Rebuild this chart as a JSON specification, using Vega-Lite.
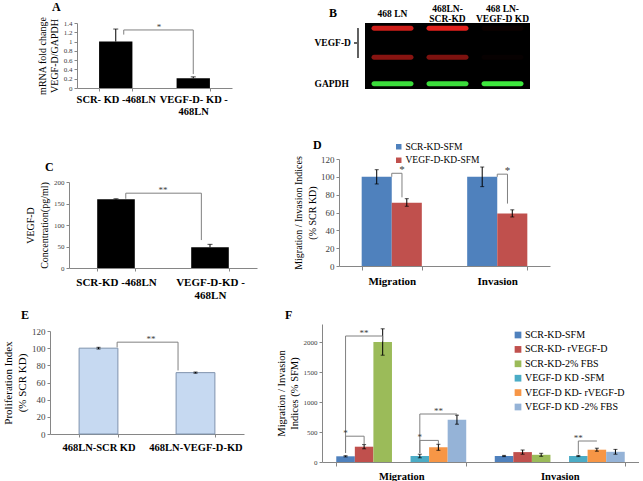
{
  "$schema": "https://vega.github.io/schema/vega-lite/v6.json",
  "background": "white",
  "padding": 0,
  "spacing": 0,
  "resolve": {"scale": {"color": "independent", "opacity": "independent", "xOffset": "independent", "x": "independent", "y": "independent"}, "legend": {"color": "independent", "opacity": "independent"}},
  "config": {
    "font": "Liberation Serif",
    "view": {"stroke": null},
    "concat": {"spacing": 0},
    "axis": {"grid": false, "domainColor": "#868686", "tickColor": "#868686", "labelColor": "#404040", "titleColor": "#000000", "titleFontWeight": "normal", "labelFont": "Liberation Serif", "titleFont": "Liberation Serif", "labelOverlap": false},
    "title": {"fontWeight": "bold", "fontSize": 12, "anchor": "start", "frame": "group", "color": "#000000", "font": "Liberation Serif"},
    "legend": {"labelFont": "Liberation Serif", "labelColor": "#000000", "offset": 0}
  },
  "datasets": {
    "fold": [
      {"cell": "SCR- KD -468LN", "fold": 1.0, "lo": 1.0, "hi": 1.27},
      {"cell": "VEGF-D- KD -468LN", "fold": 0.21, "lo": 0.21, "hi": 0.24}
    ],
    "foldSig": [{"from": "SCR- KD -468LN", "to": "VEGF-D- KD -468LN", "top": 1.25, "lowFrom": 1.15, "lowTo": 0.3, "label": "*"}],
    "blot": [
      {"lane": "468 LN", "protein": "VEGF-D", "rf": 0.08, "signal": 0.9},
      {"lane": "468 LN", "protein": "VEGF-D", "rf": 0.52, "signal": 0.6},
      {"lane": "468 LN", "protein": "GAPDH", "rf": 0.92, "signal": 0.95},
      {"lane": "468LN-SCR-KD", "protein": "VEGF-D", "rf": 0.08, "signal": 1.0},
      {"lane": "468LN-SCR-KD", "protein": "VEGF-D", "rf": 0.52, "signal": 0.55},
      {"lane": "468LN-SCR-KD", "protein": "GAPDH", "rf": 0.92, "signal": 0.95},
      {"lane": "468 LN-VEGF-D KD", "protein": "VEGF-D", "rf": 0.08, "signal": 0.05},
      {"lane": "468 LN-VEGF-D KD", "protein": "VEGF-D", "rf": 0.52, "signal": 0.03},
      {"lane": "468 LN-VEGF-D KD", "protein": "GAPDH", "rf": 0.92, "signal": 1.0}
    ],
    "elisa": [
      {"cell": "SCR-KD -468LN", "conc": 160, "lo": 159, "hi": 161},
      {"cell": "VEGF-D-KD -468LN", "conc": 48, "lo": 48, "hi": 55}
    ],
    "elisaSig": [{"from": "SCR-KD -468LN", "to": "VEGF-D-KD -468LN", "top": 174, "lowFrom": 161, "lowTo": 65, "label": "**"}],
    "mig": [
      {"assay": "Migration", "cells": "SCR-KD-SFM", "index": 100, "lo": 92, "hi": 108},
      {"assay": "Migration", "cells": "VEGF-D-KD-SFM", "index": 71, "lo": 67, "hi": 75.5},
      {"assay": "Invasion", "cells": "SCR-KD-SFM", "index": 100, "lo": 89, "hi": 111},
      {"assay": "Invasion", "cells": "VEGF-D-KD-SFM", "index": 59, "lo": 55, "hi": 63}
    ],
    "migSig": [
      {"assay": "Migration", "top": 104, "lowFrom": 100, "lowTo": 77, "label": "*"},
      {"assay": "Invasion", "top": 103, "lowFrom": 100, "lowTo": 70, "label": "*"}
    ],
    "prolif": [
      {"cell": "468LN-SCR KD", "index": 100, "lo": 99, "hi": 101},
      {"cell": "468LN-VEGF-D-KD", "index": 71.5, "lo": 70.8, "hi": 72.2}
    ],
    "prolifSig": [{"from": "468LN-SCR KD", "to": "468LN-VEGF-D-KD", "top": 107, "lowFrom": 101, "lowTo": 74, "label": "**"}],
    "rescue": [
      {"assay": "Migration", "condition": "SCR-KD-SFM", "pct": 95, "lo": 85, "hi": 105},
      {"assay": "Migration", "condition": "SCR-KD- rVEGF-D", "pct": 255, "lo": 220, "hi": 290},
      {"assay": "Migration", "condition": "SCR-KD-2% FBS", "pct": 2000, "lo": 1780, "hi": 2220},
      {"assay": "Migration", "condition": "VEGF-D KD -SFM", "pct": 100, "lo": 70, "hi": 130},
      {"assay": "Migration", "condition": "VEGF-D KD- rVEGF-D", "pct": 245, "lo": 195, "hi": 295},
      {"assay": "Migration", "condition": "VEGF-D KD -2% FBS", "pct": 705, "lo": 630, "hi": 780},
      {"assay": "Invasion", "condition": "SCR-KD-SFM", "pct": 100, "lo": 90, "hi": 110},
      {"assay": "Invasion", "condition": "SCR-KD- rVEGF-D", "pct": 165, "lo": 130, "hi": 200},
      {"assay": "Invasion", "condition": "SCR-KD-2% FBS", "pct": 120, "lo": 95, "hi": 145},
      {"assay": "Invasion", "condition": "VEGF-D KD -SFM", "pct": 100, "lo": 90, "hi": 110},
      {"assay": "Invasion", "condition": "VEGF-D KD- rVEGF-D", "pct": 205, "lo": 180, "hi": 230},
      {"assay": "Invasion", "condition": "VEGF-D KD -2% FBS", "pct": 170, "lo": 130, "hi": 210}
    ],
    "rescueSig": [
      {"bracket": 1, "step": 1, "assay": "Migration", "condition": "SCR-KD-SFM", "y": 150},
      {"bracket": 1, "step": 2, "assay": "Migration", "condition": "SCR-KD-SFM", "y": 2100},
      {"bracket": 1, "step": 3, "assay": "Migration", "condition": "SCR-KD-2% FBS", "y": 2100},
      {"bracket": 1, "step": 4, "assay": "Migration", "condition": "SCR-KD-2% FBS", "y": 2010},
      {"bracket": 2, "step": 1, "assay": "Migration", "condition": "SCR-KD-SFM", "y": 150},
      {"bracket": 2, "step": 2, "assay": "Migration", "condition": "SCR-KD-SFM", "y": 430},
      {"bracket": 2, "step": 3, "assay": "Migration", "condition": "SCR-KD- rVEGF-D", "y": 430},
      {"bracket": 2, "step": 4, "assay": "Migration", "condition": "SCR-KD- rVEGF-D", "y": 300},
      {"bracket": 3, "step": 1, "assay": "Migration", "condition": "VEGF-D KD -SFM", "y": 150},
      {"bracket": 3, "step": 2, "assay": "Migration", "condition": "VEGF-D KD -SFM", "y": 800},
      {"bracket": 3, "step": 3, "assay": "Migration", "condition": "VEGF-D KD -2% FBS", "y": 800},
      {"bracket": 3, "step": 4, "assay": "Migration", "condition": "VEGF-D KD -2% FBS", "y": 785},
      {"bracket": 4, "step": 1, "assay": "Migration", "condition": "VEGF-D KD -SFM", "y": 150},
      {"bracket": 4, "step": 2, "assay": "Migration", "condition": "VEGF-D KD -SFM", "y": 360},
      {"bracket": 4, "step": 3, "assay": "Migration", "condition": "VEGF-D KD- rVEGF-D", "y": 360},
      {"bracket": 4, "step": 4, "assay": "Migration", "condition": "VEGF-D KD- rVEGF-D", "y": 300},
      {"bracket": 5, "step": 1, "assay": "Invasion", "condition": "VEGF-D KD -SFM", "y": 130},
      {"bracket": 5, "step": 2, "assay": "Invasion", "condition": "VEGF-D KD -SFM", "y": 350},
      {"bracket": 5, "step": 3, "assay": "Invasion", "condition": "VEGF-D KD- rVEGF-D", "y": 350}
    ],
    "rescueStars": [
      {"assay": "Migration", "condition": "SCR-KD- rVEGF-D", "y": 2100, "label": "**"},
      {"assay": "Migration", "condition": "SCR-KD-SFM", "y": 430, "label": "*"},
      {"assay": "Migration", "condition": "VEGF-D KD- rVEGF-D", "y": 800, "label": "**"},
      {"assay": "Migration", "condition": "VEGF-D KD -SFM", "y": 360, "label": "*"},
      {"assay": "Invasion", "condition": "VEGF-D KD -SFM", "y": 350, "label": "**"}
    ]
  },
  "vconcat": [
    {
      "spacing": 0,
      "resolve": {"scale": {"color": "independent", "opacity": "independent", "xOffset": "independent"}, "legend": {"color": "independent", "opacity": "independent"}},
      "hconcat": [
        {"width": 37, "height": 1, "data": {"values": []}, "mark": "point"},
        {
          "spacing": 0,
          "vconcat": [
            {"width": 1, "height": 1, "data": {"values": []}, "mark": "point"},
            {
              "title": {"text": "A", "dx": -25, "offset": 2},
              "width": 155, "height": 65,
              "data": {"name": "fold"},
              "layer": [
                {
                  "mark": {"type": "bar", "color": "#000000"},
                  "encoding": {
                    "x": {"field": "cell", "type": "nominal", "sort": null,
                      "scale": {"domain": ["SCR- KD -468LN", "VEGF-D- KD -468LN"], "paddingInner": 0.57, "paddingOuter": 0.285},
                      "axis": {"title": null, "labelAngle": 0, "labelFontSize": 10.5, "labelFontWeight": "bold", "labelColor": "#000000", "labelPadding": 3, "labelLineHeight": 12, "tickBand": "extent", "tickSize": 3, "labelLimit": 0,
                        "labelExpr": "length(datum.label) > 15 ? [substring(datum.label, 0, lastindexof(datum.label, '-') + 1), substring(datum.label, lastindexof(datum.label, '-') + 1)] : datum.label"}},
                    "y": {"field": "fold", "type": "quantitative", "scale": {"domain": [0, 1.4], "nice": false},
                      "axis": {"title": ["mRNA fold change", "VEGF-D/GAPDH"], "titleFontSize": 10, "titleLineHeight": 12, "titlePadding": 4, "values": [0, 0.2, 0.4, 0.6, 0.8, 1, 1.2, 1.4], "tickCount": 20, "format": ".1~f", "labelFontSize": 7, "tickSize": 3, "labelPadding": 2, "labelOverlap": false, "labelFlush": false}}
                  }
                },
                {
                  "mark": {"type": "rule", "color": "#000000"},
                  "encoding": {
                    "x": {"field": "cell", "type": "nominal"},
                    "y": {"field": "lo", "type": "quantitative"},
                    "y2": {"field": "hi"}
                  }
                },
                {
                  "mark": {"type": "tick", "orient": "horizontal", "size": 5, "thickness": 1, "color": "#000000"},
                  "encoding": {
                    "x": {"field": "cell", "type": "nominal"},
                    "y": {"field": "hi", "type": "quantitative"}
                  }
                },
                {
                  "data": {"name": "foldSig"},
                  "mark": {"type": "rule", "color": "#808080"},
                  "encoding": {
                    "x": {"field": "from", "type": "nominal", "bandPosition": 0.74},
                    "y": {"field": "lowFrom", "type": "quantitative"},
                    "y2": {"field": "top"}
                  }
                },
                {
                  "data": {"name": "foldSig"},
                  "mark": {"type": "rule", "color": "#808080"},
                  "encoding": {
                    "x": {"field": "from", "type": "nominal", "bandPosition": 0.74},
                    "x2": {"field": "to", "bandPosition": 0.5},
                    "y": {"field": "top", "type": "quantitative"}
                  }
                },
                {
                  "data": {"name": "foldSig"},
                  "mark": {"type": "rule", "color": "#808080"},
                  "encoding": {
                    "x": {"field": "to", "type": "nominal", "bandPosition": 0.5},
                    "y": {"field": "lowTo", "type": "quantitative"},
                    "y2": {"field": "top"}
                  }
                },
                {
                  "data": {"name": "foldSig"},
                  "mark": {"type": "text", "color": "#404040", "fontSize": 9, "baseline": "alphabetic"},
                  "encoding": {
                    "x": {"field": "from", "type": "nominal", "bandPosition": 1.8},
                    "y": {"field": "top", "type": "quantitative"},
                    "text": {"field": "label"}
                  }
                }
              ]
            }
          ]
        },
        {"width": 82, "height": 1, "data": {"values": []}, "mark": "point"},
        {
          "spacing": 0,
          "vconcat": [
            {"width": 1, "height": 3, "data": {"values": []}, "mark": "point"},
            {
              "title": {"text": "B", "dx": -36, "offset": -17},
              "width": 165, "height": 66,
              "view": {"fill": "#000000", "stroke": null},
              "data": {"name": "blot"},
              "layer": [
                {
                  "mark": {"type": "tick", "orient": "horizontal", "size": 42, "thickness": 5, "cornerRadius": 2.5},
                  "encoding": {
                    "x": {"field": "lane", "type": "nominal", "sort": null,
                      "scale": {"domain": ["468 LN", "468LN-SCR-KD", "468 LN-VEGF-D KD"], "paddingInner": 0, "paddingOuter": 0},
                      "axis": {"orient": "top", "title": null, "domain": false, "ticks": false, "labelAngle": 0, "labelFontSize": 9.5, "labelFontWeight": "bold", "labelColor": "#000000", "labelBaseline": "middle",
                        "labelPadding": {"condition": {"test": "indexof(datum.label, '-') < 0", "value": 10}, "value": 15},
                        "labelLineHeight": 10, "labelLimit": 0,
                        "labelExpr": "indexof(datum.label, '-') < 0 ? datum.label : [substring(datum.label, 0, indexof(datum.label, '-') + 1), substring(datum.label, indexof(datum.label, '-') + 1)]"}},
                    "y": {"field": "rf", "type": "quantitative", "scale": {"domain": [0, 1], "reverse": true, "nice": false},
                      "axis": {"title": null, "domain": false, "ticks": false, "values": [0.3, 0.92], "tickCount": 20, "labelExpr": "datum.value < 0.6 ? 'VEGF-D' : 'GAPDH'", "labelAlign": "left", "labelBaseline": "middle", "labelPadding": 51, "labelFontSize": 9.5, "labelFontWeight": "bold", "labelColor": "#000000"}},
                    "color": {"field": "protein", "type": "nominal", "scale": {"domain": ["VEGF-D", "GAPDH"], "range": ["#e3211c", "#3ee83e"]}, "legend": null},
                    "opacity": {"field": "signal", "type": "quantitative", "scale": {"domain": [0, 1], "range": [0, 1]}, "legend": null}
                  }
                },
                {
                  "mark": {"type": "rule", "color": "#606060"},
                  "encoding": {
                    "x": {"datum": "468 LN", "type": "nominal", "bandPosition": -0.13},
                    "y": {"datum": 0.08, "type": "quantitative"},
                    "y2": {"datum": 0.53}
                  }
                },
                {
                  "mark": {"type": "rule", "color": "#606060"},
                  "encoding": {
                    "x": {"datum": "468 LN", "type": "nominal", "bandPosition": -0.2},
                    "x2": {"datum": "468 LN", "bandPosition": -0.13},
                    "y": {"datum": 0.3, "type": "quantitative"}
                  }
                }
              ]
            }
          ]
        }
      ]
    },
    {
      "spacing": 0,
      "resolve": {"scale": {"color": "independent", "opacity": "independent", "xOffset": "independent"}, "legend": {"color": "independent", "opacity": "independent"}},
      "hconcat": [
        {"width": 25, "height": 1, "data": {"values": []}, "mark": "point"},
        {
          "spacing": 0,
          "vconcat": [
            {"width": 1, "height": 44, "data": {"values": []}, "mark": "point"},
            {
              "title": {"text": "C", "dx": -24, "offset": 4},
              "width": 188, "height": 86,
              "data": {"name": "elisa"},
              "layer": [
                {
                  "mark": {"type": "bar", "color": "#000000"},
                  "encoding": {
                    "x": {"field": "cell", "type": "nominal", "sort": null,
                      "scale": {"domain": ["SCR-KD -468LN", "VEGF-D-KD -468LN"], "paddingInner": 0.6, "paddingOuter": 0.3},
                      "axis": {"title": null, "labelAngle": 0, "labelFontSize": 11, "labelFontWeight": "bold", "labelColor": "#000000", "labelPadding": 5, "labelLineHeight": 13, "tickBand": "extent", "tickSize": 3, "labelLimit": 0,
                        "labelExpr": "length(datum.label) > 15 ? [substring(datum.label, 0, lastindexof(datum.label, '-') + 1), substring(datum.label, lastindexof(datum.label, '-') + 1)] : datum.label"}},
                    "y": {"field": "conc", "type": "quantitative", "scale": {"domain": [0, 200], "nice": false},
                      "axis": {"title": ["VEGF-D", "Concentration(pg/ml)"], "titleFontSize": 10, "titleLineHeight": 14, "titlePadding": 4, "values": [0, 50, 100, 150, 200], "tickCount": 20, "labelFontSize": 7, "tickSize": 3, "labelPadding": 2, "labelOverlap": false, "labelFlush": false}}
                  }
                },
                {
                  "mark": {"type": "rule", "color": "#000000"},
                  "encoding": {
                    "x": {"field": "cell", "type": "nominal"},
                    "y": {"field": "lo", "type": "quantitative"},
                    "y2": {"field": "hi"}
                  }
                },
                {
                  "mark": {"type": "tick", "orient": "horizontal", "size": 5, "thickness": 1, "color": "#000000"},
                  "encoding": {
                    "x": {"field": "cell", "type": "nominal"},
                    "y": {"field": "hi", "type": "quantitative"}
                  }
                },
                {
                  "data": {"name": "elisaSig"},
                  "mark": {"type": "rule", "color": "#808080"},
                  "encoding": {
                    "x": {"field": "from", "type": "nominal", "bandPosition": 0.76},
                    "y": {"field": "lowFrom", "type": "quantitative"},
                    "y2": {"field": "top"}
                  }
                },
                {
                  "data": {"name": "elisaSig"},
                  "mark": {"type": "rule", "color": "#808080"},
                  "encoding": {
                    "x": {"field": "from", "type": "nominal", "bandPosition": 0.76},
                    "x2": {"field": "to", "bandPosition": 0.27},
                    "y": {"field": "top", "type": "quantitative"}
                  }
                },
                {
                  "data": {"name": "elisaSig"},
                  "mark": {"type": "rule", "color": "#808080"},
                  "encoding": {
                    "x": {"field": "to", "type": "nominal", "bandPosition": 0.27},
                    "y": {"field": "lowTo", "type": "quantitative"},
                    "y2": {"field": "top"}
                  }
                },
                {
                  "data": {"name": "elisaSig"},
                  "mark": {"type": "text", "color": "#404040", "fontSize": 9, "baseline": "alphabetic"},
                  "encoding": {
                    "x": {"field": "from", "type": "nominal", "bandPosition": 1.75},
                    "y": {"field": "top", "type": "quantitative"},
                    "text": {"field": "label"}
                  }
                }
              ]
            }
          ]
        },
        {"width": 36, "height": 1, "data": {"values": []}, "mark": "point"},
        {
          "spacing": 0,
          "vconcat": [
            {"width": 1, "height": 22, "data": {"values": []}, "mark": "point"},
            {
              "title": {"text": "D", "dx": -26, "offset": 2},
              "width": 211, "height": 107,
              "layer": [
                {
                  "data": {"name": "mig"},
                  "mark": {"type": "bar"},
                  "encoding": {
                    "x": {"field": "assay", "type": "nominal",
                      "scale": {"domain": ["Migration", "Invasion"], "paddingInner": 0.43, "paddingOuter": 0.215},
                      "axis": {"title": null, "labelAngle": 0, "labelFontSize": 11, "labelFontWeight": "bold", "labelColor": "#000000", "labelPadding": 5, "tickBand": "extent", "tickSize": 4}},
                    "xOffset": {"field": "cells", "type": "nominal", "scale": {"domain": ["SCR-KD-SFM", "VEGF-D-KD-SFM"], "paddingInner": 0, "paddingOuter": 0}},
                    "y": {"field": "index", "type": "quantitative", "scale": {"domain": [0, 120], "nice": false},
                      "axis": {"title": ["Migration / Invasion  Indices", "(% SCR KD)"], "titleFontSize": 10, "titleLineHeight": 14, "titlePadding": 3, "values": [0, 20, 40, 60, 80, 100, 120], "tickCount": 20, "labelFontSize": 9, "tickSize": 3, "labelPadding": 2, "labelOverlap": false, "labelFlush": false}},
                    "color": {"field": "cells", "type": "nominal", "scale": {"domain": ["SCR-KD-SFM", "VEGF-D-KD-SFM"], "range": ["#4f81bd", "#c0504d"]},
                      "legend": {"title": null, "orient": "none", "legendX": 55, "legendY": 25, "offset": 0, "symbolType": "square", "symbolSize": 30, "labelFontSize": 9.5, "rowPadding": 2.5, "labelOffset": 2}}
                  }
                },
                {
                  "data": {"name": "mig"},
                  "mark": {"type": "rule", "color": "#000000"},
                  "encoding": {
                    "x": {"field": "assay", "type": "nominal"},
                    "xOffset": {"field": "cells", "type": "nominal"},
                    "y": {"field": "lo", "type": "quantitative"},
                    "y2": {"field": "hi"}
                  }
                },
                {
                  "data": {"name": "mig"},
                  "mark": {"type": "tick", "orient": "horizontal", "size": 4, "thickness": 1, "color": "#000000"},
                  "encoding": {
                    "x": {"field": "assay", "type": "nominal"},
                    "xOffset": {"field": "cells", "type": "nominal"},
                    "y": {"field": "hi", "type": "quantitative"}
                  }
                },
                {
                  "data": {"name": "mig"},
                  "mark": {"type": "tick", "orient": "horizontal", "size": 4, "thickness": 1, "color": "#000000"},
                  "encoding": {
                    "x": {"field": "assay", "type": "nominal"},
                    "xOffset": {"field": "cells", "type": "nominal"},
                    "y": {"field": "lo", "type": "quantitative"}
                  }
                },
                {
                  "data": {"name": "migSig"},
                  "mark": {"type": "rule", "color": "#808080"},
                  "encoding": {
                    "x": {"field": "assay", "type": "nominal", "bandPosition": 0.5},
                    "y": {"field": "lowFrom", "type": "quantitative"},
                    "y2": {"field": "top"}
                  }
                },
                {
                  "data": {"name": "migSig"},
                  "mark": {"type": "rule", "color": "#808080"},
                  "encoding": {
                    "x": {"field": "assay", "type": "nominal", "bandPosition": 0.5},
                    "x2": {"field": "assay", "bandPosition": 0.67},
                    "y": {"field": "top", "type": "quantitative"}
                  }
                },
                {
                  "data": {"name": "migSig"},
                  "mark": {"type": "rule", "color": "#808080"},
                  "encoding": {
                    "x": {"field": "assay", "type": "nominal", "bandPosition": 0.67},
                    "y": {"field": "lowTo", "type": "quantitative"},
                    "y2": {"field": "top"}
                  }
                },
                {
                  "data": {"name": "migSig"},
                  "mark": {"type": "text", "color": "#404040", "fontSize": 11, "baseline": "alphabetic"},
                  "encoding": {
                    "x": {"field": "assay", "type": "nominal", "bandPosition": 0.67},
                    "y": {"field": "top", "type": "quantitative"},
                    "text": {"field": "label"}
                  }
                }
              ]
            }
          ]
        }
      ]
    },
    {
      "spacing": 0,
      "resolve": {"scale": {"color": "independent", "opacity": "independent", "xOffset": "independent"}, "legend": {"color": "independent", "opacity": "independent"}},
      "hconcat": [
        {"width": 2, "height": 1, "data": {"values": []}, "mark": "point"},
        {
          "spacing": 0,
          "vconcat": [
            {"width": 1, "height": 9, "data": {"values": []}, "mark": "point"},
            {
              "title": {"text": "E", "dx": -29, "offset": 5},
              "width": 194, "height": 103,
              "data": {"name": "prolif"},
              "layer": [
                {
                  "mark": {"type": "bar", "color": "#c6d9f1", "stroke": "#7f93ad", "strokeWidth": 1},
                  "encoding": {
                    "x": {"field": "cell", "type": "nominal", "sort": null,
                      "scale": {"domain": ["468LN-SCR KD", "468LN-VEGF-D-KD"], "paddingInner": 0.6, "paddingOuter": 0.3},
                      "axis": {"title": null, "labelAngle": 0, "labelFontSize": 10.5, "labelFontWeight": "bold", "labelColor": "#000000", "labelPadding": 5, "tickBand": "extent", "tickSize": 3, "labelLimit": 0}},
                    "y": {"field": "index", "type": "quantitative", "scale": {"domain": [0, 120], "nice": false},
                      "axis": {"title": ["Proliferation Index", "(% SCR KD)"], "titleFontSize": 11, "titleLineHeight": 14, "titlePadding": 4, "values": [0, 20, 40, 60, 80, 100, 120], "tickCount": 20, "labelFontSize": 9, "tickSize": 3, "labelPadding": 2, "labelOverlap": false, "labelFlush": false}}
                  }
                },
                {
                  "mark": {"type": "rule", "color": "#000000"},
                  "encoding": {
                    "x": {"field": "cell", "type": "nominal"},
                    "y": {"field": "lo", "type": "quantitative"},
                    "y2": {"field": "hi"}
                  }
                },
                {
                  "mark": {"type": "tick", "orient": "horizontal", "size": 4, "thickness": 1, "color": "#000000"},
                  "encoding": {
                    "x": {"field": "cell", "type": "nominal"},
                    "y": {"field": "hi", "type": "quantitative"}
                  }
                },
                {
                  "mark": {"type": "tick", "orient": "horizontal", "size": 4, "thickness": 1, "color": "#000000"},
                  "encoding": {
                    "x": {"field": "cell", "type": "nominal"},
                    "y": {"field": "lo", "type": "quantitative"}
                  }
                },
                {
                  "data": {"name": "prolifSig"},
                  "mark": {"type": "rule", "color": "#808080"},
                  "encoding": {
                    "x": {"field": "from", "type": "nominal", "bandPosition": 0.98},
                    "y": {"field": "lowFrom", "type": "quantitative"},
                    "y2": {"field": "top"}
                  }
                },
                {
                  "data": {"name": "prolifSig"},
                  "mark": {"type": "rule", "color": "#808080"},
                  "encoding": {
                    "x": {"field": "from", "type": "nominal", "bandPosition": 0.98},
                    "x2": {"field": "to", "bandPosition": 0.05},
                    "y": {"field": "top", "type": "quantitative"}
                  }
                },
                {
                  "data": {"name": "prolifSig"},
                  "mark": {"type": "rule", "color": "#808080"},
                  "encoding": {
                    "x": {"field": "to", "type": "nominal", "bandPosition": 0.05},
                    "y": {"field": "lowTo", "type": "quantitative"},
                    "y2": {"field": "top"}
                  }
                },
                {
                  "data": {"name": "prolifSig"},
                  "mark": {"type": "text", "color": "#404040", "fontSize": 9, "baseline": "alphabetic"},
                  "encoding": {
                    "x": {"field": "from", "type": "nominal", "bandPosition": 1.85},
                    "y": {"field": "top", "type": "quantitative"},
                    "text": {"field": "label"}
                  }
                }
              ]
            }
          ]
        },
        {"width": 32, "height": 1, "data": {"values": []}, "mark": "point"},
        {
          "spacing": 0,
          "vconcat": [
            {"width": 1, "height": 9, "data": {"values": []}, "mark": "point"},
            {
              "title": {"text": "F", "dx": -37, "offset": 2},
              "width": 317, "height": 138,
              "layer": [
                {
                  "data": {"name": "rescue"},
                  "mark": {"type": "bar"},
                  "encoding": {
                    "x": {"field": "assay", "type": "nominal",
                      "scale": {"domain": ["Migration", "Invasion"], "paddingInner": 0.18, "paddingOuter": 0.09},
                      "axis": {"title": null, "labelAngle": 0, "labelFontSize": 10.5, "labelFontWeight": "bold", "labelColor": "#000000", "labelPadding": 5, "tickBand": "extent", "tickSize": 4}},
                    "xOffset": {"field": "condition", "type": "nominal", "scale": {"domain": ["SCR-KD-SFM", "SCR-KD- rVEGF-D", "SCR-KD-2% FBS", "(gap)", "VEGF-D KD -SFM", "VEGF-D KD- rVEGF-D", "VEGF-D KD -2% FBS"], "paddingInner": 0, "paddingOuter": 0}},
                    "y": {"field": "pct", "type": "quantitative", "scale": {"domain": [0, 2300], "nice": false},
                      "axis": {"title": ["Migration / Invasion", "Indices (% SFM)"], "titleFontSize": 10.5, "titleLineHeight": 13, "titlePadding": 4, "values": [0, 500, 1000, 1500, 2000], "tickCount": 20, "format": "d", "labelFontSize": 7, "tickSize": 3, "labelPadding": 2, "labelOverlap": false, "labelFlush": false}},
                    "color": {"field": "condition", "type": "nominal",
                      "scale": {"domain": ["SCR-KD-SFM", "SCR-KD- rVEGF-D", "SCR-KD-2% FBS", "VEGF-D KD -SFM", "VEGF-D KD- rVEGF-D", "VEGF-D KD -2% FBS"], "range": ["#4f81bd", "#c0504d", "#9bbb59", "#4bacc6", "#f79646", "#95b3d7"]},
                      "legend": {"title": null, "orient": "none", "legendX": 191, "legendY": 30, "offset": 0, "symbolType": "square", "symbolSize": 45, "labelFontSize": 10, "rowPadding": 4.4, "labelOffset": 2}}
                  }
                },
                {
                  "data": {"name": "rescue"},
                  "mark": {"type": "rule", "color": "#000000"},
                  "encoding": {
                    "x": {"field": "assay", "type": "nominal"},
                    "xOffset": {"field": "condition", "type": "nominal"},
                    "y": {"field": "lo", "type": "quantitative"},
                    "y2": {"field": "hi"}
                  }
                },
                {
                  "data": {"name": "rescue"},
                  "mark": {"type": "tick", "orient": "horizontal", "size": 4, "thickness": 1, "color": "#000000"},
                  "encoding": {
                    "x": {"field": "assay", "type": "nominal"},
                    "xOffset": {"field": "condition", "type": "nominal"},
                    "y": {"field": "hi", "type": "quantitative"}
                  }
                },
                {
                  "data": {"name": "rescue"},
                  "mark": {"type": "tick", "orient": "horizontal", "size": 4, "thickness": 1, "color": "#000000"},
                  "encoding": {
                    "x": {"field": "assay", "type": "nominal"},
                    "xOffset": {"field": "condition", "type": "nominal"},
                    "y": {"field": "lo", "type": "quantitative"}
                  }
                },
                {
                  "data": {"name": "rescueSig"},
                  "mark": {"type": "line", "color": "#808080", "strokeWidth": 1},
                  "encoding": {
                    "x": {"field": "assay", "type": "nominal"},
                    "xOffset": {"field": "condition", "type": "nominal"},
                    "y": {"field": "y", "type": "quantitative"},
                    "detail": {"field": "bracket", "type": "nominal"},
                    "order": {"field": "step", "type": "quantitative"}
                  }
                },
                {
                  "data": {"name": "rescueStars"},
                  "mark": {"type": "text", "color": "#404040", "fontSize": 9, "baseline": "alphabetic"},
                  "encoding": {
                    "x": {"field": "assay", "type": "nominal"},
                    "xOffset": {"field": "condition", "type": "nominal"},
                    "y": {"field": "y", "type": "quantitative"},
                    "text": {"field": "label"}
                  }
                }
              ]
            }
          ]
        }
      ]
    }
  ]
}
